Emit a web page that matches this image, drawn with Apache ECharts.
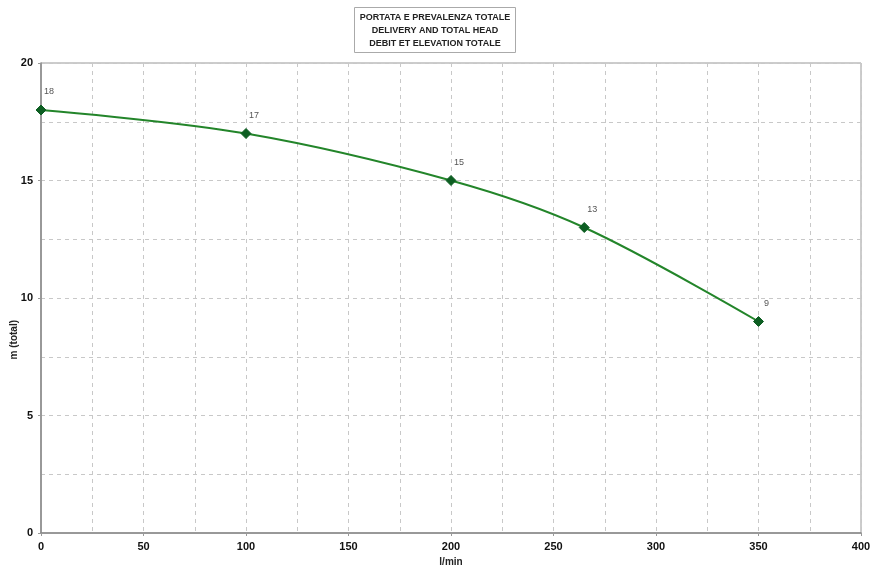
<!DOCTYPE html>
<html><head><meta charset="utf-8">
<script src="https://cdn.jsdelivr.net/npm/echarts@6/dist/echarts.min.js"></script>
<style>html,body{margin:0;padding:0;background:#fff}#c{width:870px;height:570px}</style>
</head><body><div id="c"></div>
<script>
const flow = [0, 100, 200, 265, 350];
const head = [18, 17, 15, 13, 9];
const titleLines = ['PORTATA E PREVALENZA TOTALE', 'DELIVERY AND TOTAL HEAD', 'DEBIT ET ELEVATION TOTALE'];
const xName = 'l/min';
const yName = 'm (total)';

const chart = echarts.init(document.getElementById('c'));
const dash = {type: [4, 4], color: '#c8c8c8', width: 1};
chart.setOption({
  animation: false,
  title: {
    text: titleLines.join('\n'),
    left: 'center', top: 7,
    padding: [4, 6, 3, 6],
    borderColor: '#aaa', borderWidth: 1,
    textStyle: {fontFamily: 'Liberation Sans', fontSize: 9, fontWeight: 'bold', color: '#222', lineHeight: 13, align: 'center'}
  },
  graphic: [{
    type: 'text', left: 9, top: 320, rotation: Math.PI / 2,
    style: {text: yName, fontFamily: 'Liberation Sans', fontSize: 10, fontWeight: 'bold', fill: '#222'}
  }],
  grid: {left: 41, right: 9, top: 63, bottom: 37, outerBoundsMode: 'none', containLabel: false,
    show: true, borderColor: '#999', borderWidth: 1},
  xAxis: {
    type: 'value', min: 0, max: 400, interval: 50,
    name: xName, nameLocation: 'middle', nameGap: 23,
    nameTextStyle: {fontFamily: 'Liberation Sans', fontSize: 10, fontWeight: 'bold', color: '#222'},
    axisLine: {show: true, lineStyle: {color: '#888', width: 1.5}},
    axisTick: {show: true, length: 3, lineStyle: {color: '#999'}},
    axisLabel: {fontFamily: 'Liberation Sans', fontSize: 11, fontWeight: 'bold', color: '#111', margin: 8},
    splitLine: {show: true, lineStyle: dash},
    minorTick: {show: false, splitNumber: 2},
    minorSplitLine: {show: true, lineStyle: dash}
  },
  yAxis: {
    type: 'value', min: 0, max: 20, interval: 5,
    axisLine: {show: true, lineStyle: {color: '#888', width: 1.5}},
    axisTick: {show: true, length: 3, lineStyle: {color: '#999'}},
    axisLabel: {fontFamily: 'Liberation Sans', fontSize: 11, fontWeight: 'bold', color: '#111', margin: 8},
    splitLine: {show: true, lineStyle: dash},
    minorTick: {show: false, splitNumber: 2},
    minorSplitLine: {show: true, lineStyle: dash}
  },
  series: [{
    type: 'line', smooth: 0.35,
    data: flow.map((x, i) => [x, head[i]]),
    symbol: 'diamond', symbolSize: 10,
    lineStyle: {color: '#23852a', width: 2},
    itemStyle: {color: '#0d5e22', borderColor: '#0d5e22'},
    label: {show: true, position: 'top', offset: [8, -3], formatter: p => p.value[1],
      fontFamily: 'Liberation Sans', fontSize: 9, color: '#555'}
  }]
});
</script></body></html>
